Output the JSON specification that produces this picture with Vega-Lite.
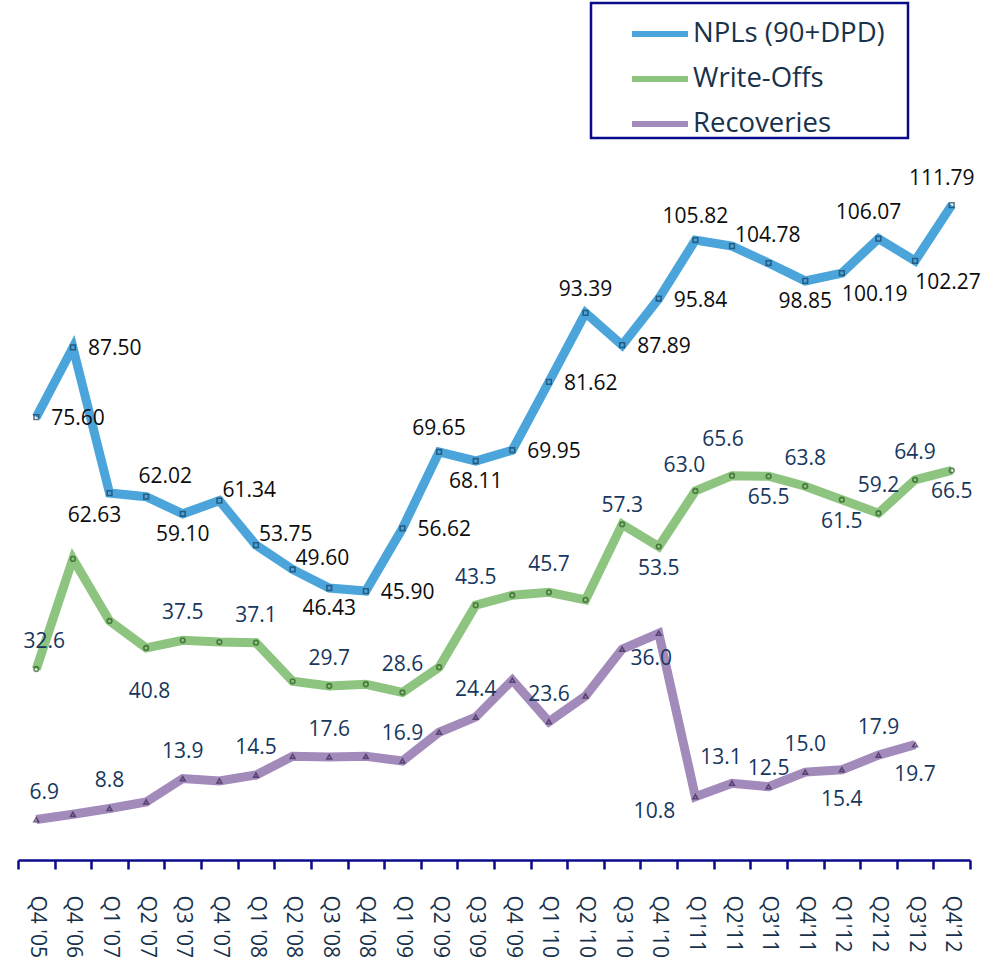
{
  "$schema": "https://vega.github.io/schema/vega-lite/v6.json",
  "autosize": {"type": "none"},
  "width": 952,
  "height": 703,
  "padding": {"left": 18, "top": 157, "right": 20, "bottom": 116},
  "config": {
    "view": {"stroke": null},
    "font": "Open Sans",
    "axisX": {
      "labelAngle": 90, "labelAlign": "left", "labelBaseline": "middle", "labelPadding": 26,
      "labelFont": "Open Sans", "labelFontSize": 21, "labelColor": "#17324a", "labelOverlap": false,
      "domainColor": "#0a0a8c", "domainWidth": 2.5, "tickColor": "#0a0a8c", "tickWidth": 2.5, "tickSize": 9
    }
  },
  "resolve": {"legend": {"shape": "independent", "stroke": "independent"}},
  "data": {"values": [
    {"quarter": "Q4 '05", "series": "NPLs (90+DPD)", "value": 75.60},
    {"quarter": "Q4 '06", "series": "NPLs (90+DPD)", "value": 87.50},
    {"quarter": "Q1 '07", "series": "NPLs (90+DPD)", "value": 62.63},
    {"quarter": "Q2 '07", "series": "NPLs (90+DPD)", "value": 62.02},
    {"quarter": "Q3 '07", "series": "NPLs (90+DPD)", "value": 59.10},
    {"quarter": "Q4 '07", "series": "NPLs (90+DPD)", "value": 61.34},
    {"quarter": "Q1 '08", "series": "NPLs (90+DPD)", "value": 53.75},
    {"quarter": "Q2 '08", "series": "NPLs (90+DPD)", "value": 49.60},
    {"quarter": "Q3 '08", "series": "NPLs (90+DPD)", "value": 46.43},
    {"quarter": "Q4 '08", "series": "NPLs (90+DPD)", "value": 45.90},
    {"quarter": "Q1 '09", "series": "NPLs (90+DPD)", "value": 56.62},
    {"quarter": "Q2 '09", "series": "NPLs (90+DPD)", "value": 69.65},
    {"quarter": "Q3 '09", "series": "NPLs (90+DPD)", "value": 68.11},
    {"quarter": "Q4 '09", "series": "NPLs (90+DPD)", "value": 69.95},
    {"quarter": "Q1 '10", "series": "NPLs (90+DPD)", "value": 81.62},
    {"quarter": "Q2 '10", "series": "NPLs (90+DPD)", "value": 93.39},
    {"quarter": "Q3 '10", "series": "NPLs (90+DPD)", "value": 87.89},
    {"quarter": "Q4 '10", "series": "NPLs (90+DPD)", "value": 95.84},
    {"quarter": "Q1'11", "series": "NPLs (90+DPD)", "value": 105.82},
    {"quarter": "Q2'11", "series": "NPLs (90+DPD)", "value": 104.78},
    {"quarter": "Q3'11", "series": "NPLs (90+DPD)", "value": 101.9},
    {"quarter": "Q4'11", "series": "NPLs (90+DPD)", "value": 98.85},
    {"quarter": "Q1'12", "series": "NPLs (90+DPD)", "value": 100.19},
    {"quarter": "Q2'12", "series": "NPLs (90+DPD)", "value": 106.07},
    {"quarter": "Q3'12", "series": "NPLs (90+DPD)", "value": 102.27},
    {"quarter": "Q4'12", "series": "NPLs (90+DPD)", "value": 111.79},
    {"quarter": "Q4 '05", "series": "Write-Offs", "value": 32.6},
    {"quarter": "Q4 '06", "series": "Write-Offs", "value": 51.4},
    {"quarter": "Q1 '07", "series": "Write-Offs", "value": 40.8},
    {"quarter": "Q2 '07", "series": "Write-Offs", "value": 36.2},
    {"quarter": "Q3 '07", "series": "Write-Offs", "value": 37.5},
    {"quarter": "Q4 '07", "series": "Write-Offs", "value": 37.2},
    {"quarter": "Q1 '08", "series": "Write-Offs", "value": 37.1},
    {"quarter": "Q2 '08", "series": "Write-Offs", "value": 30.5},
    {"quarter": "Q3 '08", "series": "Write-Offs", "value": 29.7},
    {"quarter": "Q4 '08", "series": "Write-Offs", "value": 30.0},
    {"quarter": "Q1 '09", "series": "Write-Offs", "value": 28.6},
    {"quarter": "Q2 '09", "series": "Write-Offs", "value": 32.9},
    {"quarter": "Q3 '09", "series": "Write-Offs", "value": 43.5},
    {"quarter": "Q4 '09", "series": "Write-Offs", "value": 45.2},
    {"quarter": "Q1 '10", "series": "Write-Offs", "value": 45.7},
    {"quarter": "Q2 '10", "series": "Write-Offs", "value": 44.4},
    {"quarter": "Q3 '10", "series": "Write-Offs", "value": 57.3},
    {"quarter": "Q4 '10", "series": "Write-Offs", "value": 53.5},
    {"quarter": "Q1'11", "series": "Write-Offs", "value": 63.0},
    {"quarter": "Q2'11", "series": "Write-Offs", "value": 65.6},
    {"quarter": "Q3'11", "series": "Write-Offs", "value": 65.5},
    {"quarter": "Q4'11", "series": "Write-Offs", "value": 63.8},
    {"quarter": "Q1'12", "series": "Write-Offs", "value": 61.5},
    {"quarter": "Q2'12", "series": "Write-Offs", "value": 59.2},
    {"quarter": "Q3'12", "series": "Write-Offs", "value": 64.9},
    {"quarter": "Q4'12", "series": "Write-Offs", "value": 66.5},
    {"quarter": "Q4 '05", "series": "Recoveries", "value": 6.9},
    {"quarter": "Q4 '06", "series": "Recoveries", "value": 7.8},
    {"quarter": "Q1 '07", "series": "Recoveries", "value": 8.8},
    {"quarter": "Q2 '07", "series": "Recoveries", "value": 9.9},
    {"quarter": "Q3 '07", "series": "Recoveries", "value": 13.9},
    {"quarter": "Q4 '07", "series": "Recoveries", "value": 13.5},
    {"quarter": "Q1 '08", "series": "Recoveries", "value": 14.5},
    {"quarter": "Q2 '08", "series": "Recoveries", "value": 17.7},
    {"quarter": "Q3 '08", "series": "Recoveries", "value": 17.6},
    {"quarter": "Q4 '08", "series": "Recoveries", "value": 17.7},
    {"quarter": "Q1 '09", "series": "Recoveries", "value": 16.9},
    {"quarter": "Q2 '09", "series": "Recoveries", "value": 21.8},
    {"quarter": "Q3 '09", "series": "Recoveries", "value": 24.4},
    {"quarter": "Q4 '09", "series": "Recoveries", "value": 30.7},
    {"quarter": "Q1 '10", "series": "Recoveries", "value": 23.6},
    {"quarter": "Q2 '10", "series": "Recoveries", "value": 28.0},
    {"quarter": "Q3 '10", "series": "Recoveries", "value": 36.0},
    {"quarter": "Q4 '10", "series": "Recoveries", "value": 38.7},
    {"quarter": "Q1'11", "series": "Recoveries", "value": 10.8},
    {"quarter": "Q2'11", "series": "Recoveries", "value": 13.1},
    {"quarter": "Q3'11", "series": "Recoveries", "value": 12.5},
    {"quarter": "Q4'11", "series": "Recoveries", "value": 15.0},
    {"quarter": "Q1'12", "series": "Recoveries", "value": 15.4},
    {"quarter": "Q2'12", "series": "Recoveries", "value": 17.9},
    {"quarter": "Q3'12", "series": "Recoveries", "value": 19.7}
  ]},
  "encoding": {
    "x": {
      "field": "quarter", "type": "nominal",
      "scale": {"type": "band", "paddingInner": 0, "paddingOuter": 0,
        "domain": ["Q4 '05","Q4 '06","Q1 '07","Q2 '07","Q3 '07","Q4 '07","Q1 '08","Q2 '08","Q3 '08","Q4 '08","Q1 '09","Q2 '09","Q3 '09","Q4 '09","Q1 '10","Q2 '10","Q3 '10","Q4 '10","Q1'11","Q2'11","Q3'11","Q4'11","Q1'12","Q2'12","Q3'12","Q4'12"]},
      "axis": {"title": null, "tickBand": "extent", "labelPadding": 26}
    },
    "y": {"field": "value", "type": "quantitative", "scale": {"domain": [0, 120], "nice": false, "zero": true}, "axis": null}
  },
  "layer": [
    {
      "mark": {"type": "line", "strokeWidth": 9, "strokeJoin": "miter"},
      "encoding": {
        "color": {
          "field": "series", "type": "nominal",
          "scale": {"domain": ["NPLs (90+DPD)", "Write-Offs", "Recoveries"], "range": ["#4ba5db", "#8dc47f", "#a28abb"]},
          "legend": {
            "title": "\u00a0", "titleOrient": "right", "titlePadding": 23, "titleFontSize": 10,
            "orient": "none", "legendX": 573, "legendY": -154,
            "symbolType": "stroke", "symbolSize": 400, "symbolStrokeWidth": 6,
            "symbolOffset": 38, "labelOffset": 2, "labelLimit": 400,
            "labelFont": "Open Sans", "labelFontSize": 27.5, "labelColor": "#17324a",
            "rowPadding": -6, "padding": 0,
            "strokeColor": "#0a0a8c", "fillColor": "#ffffff",
            "encode": {
              "legend": {"update": {"strokeWidth": {"value": 2.5}}},
              "symbols": {"update": {"shape": {"value": "stroke"}, "size": {"value": 3136}, "strokeWidth": {"value": 6}}}
            }
          }
        }
      }
    },
    {
      "mark": {"type": "point", "filled": false, "size": 22, "strokeWidth": 1.6},
      "encoding": {
        "shape": {"field": "series", "type": "nominal", "scale": {"domain": ["NPLs (90+DPD)", "Write-Offs", "Recoveries"], "range": ["square", "circle", "triangle-up"]}, "legend": null},
        "stroke": {"field": "series", "type": "nominal", "scale": {"domain": ["NPLs (90+DPD)", "Write-Offs", "Recoveries"], "range": ["#173f5f", "#2c5a22", "#3d2757"]}, "legend": null}
      }
    },
    {
      "transform": [{"filter": {"and": [{"field": "series", "equal": "NPLs (90+DPD)"}, {"field": "quarter", "oneOf": ["Q4 '05","Q4 '06","Q4 '08","Q1 '09","Q4 '09","Q1 '10","Q3 '10","Q4 '10"]}]}}],
      "mark": {"type": "text", "align": "left", "baseline": "middle", "dx": 15, "dy": 2, "fontSize": 21, "font": "Open Sans", "color": "#0d0d0d"},
      "encoding": {"text": {"field": "value", "format": ".2f"}}
    },
    {
      "transform": [{"filter": {"and": [{"field": "series", "equal": "NPLs (90+DPD)"}, {"field": "quarter", "oneOf": ["Q4 '07","Q1 '08","Q2 '08","Q2'11"]}]}}],
      "mark": {"type": "text", "align": "left", "baseline": "middle", "dx": 3, "dy": -10, "fontSize": 21, "font": "Open Sans", "color": "#0d0d0d"},
      "encoding": {"text": {"field": "value", "format": ".2f"}}
    },
    {
      "transform": [{"filter": {"and": [{"field": "series", "equal": "NPLs (90+DPD)"}, {"field": "quarter", "oneOf": ["Q2 '09","Q2 '10","Q1'11"]}]}}],
      "mark": {"type": "text", "align": "center", "baseline": "middle", "dy": -23, "fontSize": 21, "font": "Open Sans", "color": "#0d0d0d"},
      "encoding": {"text": {"field": "value", "format": ".2f"}}
    },
    {
      "transform": [{"filter": {"and": [{"field": "series", "equal": "NPLs (90+DPD)"}, {"field": "quarter", "oneOf": ["Q2'12","Q4'12"]}]}}],
      "mark": {"type": "text", "align": "center", "baseline": "middle", "dx": -10, "dy": -26, "fontSize": 21, "font": "Open Sans", "color": "#0d0d0d"},
      "encoding": {"text": {"field": "value", "format": ".2f"}}
    },
    {
      "transform": [{"filter": {"and": [{"field": "series", "equal": "NPLs (90+DPD)"}, {"field": "quarter", "oneOf": ["Q2 '07"]}]}}],
      "mark": {"type": "text", "align": "center", "baseline": "middle", "dx": 19, "dy": -20, "fontSize": 21, "font": "Open Sans", "color": "#0d0d0d"},
      "encoding": {"text": {"field": "value", "format": ".2f"}}
    },
    {
      "transform": [{"filter": {"and": [{"field": "series", "equal": "NPLs (90+DPD)"}, {"field": "quarter", "oneOf": ["Q3 '07","Q3 '08","Q3 '09","Q4'11"]}]}}],
      "mark": {"type": "text", "align": "center", "baseline": "middle", "dy": 21, "fontSize": 21, "font": "Open Sans", "color": "#0d0d0d"},
      "encoding": {"text": {"field": "value", "format": ".2f"}}
    },
    {
      "transform": [{"filter": {"and": [{"field": "series", "equal": "NPLs (90+DPD)"}, {"field": "quarter", "oneOf": ["Q1 '07"]}]}}],
      "mark": {"type": "text", "align": "center", "baseline": "middle", "dx": -15, "dy": 23, "fontSize": 21, "font": "Open Sans", "color": "#0d0d0d"},
      "encoding": {"text": {"field": "value", "format": ".2f"}}
    },
    {
      "transform": [{"filter": {"and": [{"field": "series", "equal": "NPLs (90+DPD)"}, {"field": "quarter", "oneOf": ["Q1'12","Q3'12"]}]}}],
      "mark": {"type": "text", "align": "center", "baseline": "middle", "dx": 33, "dy": 22, "fontSize": 21, "font": "Open Sans", "color": "#0d0d0d"},
      "encoding": {"text": {"field": "value", "format": ".2f"}}
    },
    {
      "transform": [{"filter": {"and": [{"field": "series", "oneOf": ["Write-Offs", "Recoveries"]}, {"field": "quarter", "oneOf": ["Q4 '05"]}]}}],
      "mark": {"type": "text", "align": "center", "baseline": "middle", "dx": 8, "dy": -27, "fontSize": 21, "font": "Open Sans", "color": "#17375e"},
      "encoding": {"text": {"field": "value", "format": ".1f"}}
    },
    {
      "transform": [{"filter": {"or": [
        {"and": [{"field": "series", "equal": "Write-Offs"}, {"field": "quarter", "oneOf": ["Q3 '07","Q1 '08","Q3 '08","Q1 '09","Q3 '09","Q1 '10","Q4'11","Q2'12","Q3'12"]}]},
        {"and": [{"field": "series", "equal": "Recoveries"}, {"field": "quarter", "oneOf": ["Q1 '07","Q3 '07","Q1 '08","Q3 '08","Q1 '09","Q3 '09","Q1 '10","Q4'11","Q2'12"]}]}
      ]}}],
      "mark": {"type": "text", "align": "center", "baseline": "middle", "dy": -27, "fontSize": 21, "font": "Open Sans", "color": "#17375e"},
      "encoding": {"text": {"field": "value", "format": ".1f"}}
    },
    {
      "transform": [{"filter": {"or": [
        {"and": [{"field": "series", "equal": "Write-Offs"}, {"field": "quarter", "oneOf": ["Q3 '10"]}]},
        {"and": [{"field": "series", "equal": "Recoveries"}, {"field": "quarter", "oneOf": ["Q3'11"]}]}
      ]}}],
      "mark": {"type": "text", "align": "center", "baseline": "middle", "dy": -18, "fontSize": 21, "font": "Open Sans", "color": "#17375e"},
      "encoding": {"text": {"field": "value", "format": ".1f"}}
    },
    {
      "transform": [{"filter": {"or": [
        {"and": [{"field": "series", "equal": "Write-Offs"}, {"field": "quarter", "oneOf": ["Q1'11"]}]},
        {"and": [{"field": "series", "equal": "Recoveries"}, {"field": "quarter", "oneOf": ["Q2'11"]}]}
      ]}}],
      "mark": {"type": "text", "align": "center", "baseline": "middle", "dx": -11, "dy": -25, "fontSize": 21, "font": "Open Sans", "color": "#17375e"},
      "encoding": {"text": {"field": "value", "format": ".1f"}}
    },
    {
      "transform": [{"filter": {"and": [{"field": "series", "equal": "Write-Offs"}, {"field": "quarter", "oneOf": ["Q2'11"]}]}}],
      "mark": {"type": "text", "align": "center", "baseline": "middle", "dx": -9, "dy": -36, "fontSize": 21, "font": "Open Sans", "color": "#17375e"},
      "encoding": {"text": {"field": "value", "format": ".1f"}}
    },
    {
      "transform": [{"filter": {"and": [{"field": "series", "equal": "Write-Offs"}, {"field": "quarter", "oneOf": ["Q4 '10","Q3'11","Q1'12","Q4'12"]}]}}],
      "mark": {"type": "text", "align": "center", "baseline": "middle", "dy": 22, "fontSize": 21, "font": "Open Sans", "color": "#17375e"},
      "encoding": {"text": {"field": "value", "format": ".1f"}}
    },
    {
      "transform": [{"filter": {"and": [{"field": "series", "equal": "Recoveries"}, {"field": "quarter", "oneOf": ["Q1'12","Q3'12"]}]}}],
      "mark": {"type": "text", "align": "center", "baseline": "middle", "dy": 30, "fontSize": 21, "font": "Open Sans", "color": "#17375e"},
      "encoding": {"text": {"field": "value", "format": ".1f"}}
    },
    {
      "transform": [{"filter": {"and": [{"field": "series", "equal": "Write-Offs"}, {"field": "quarter", "oneOf": ["Q1 '07"]}]}}],
      "mark": {"type": "text", "align": "center", "baseline": "middle", "dx": 40, "dy": 71, "fontSize": 21, "font": "Open Sans", "color": "#17375e"},
      "encoding": {"text": {"field": "value", "format": ".1f"}}
    },
    {
      "transform": [{"filter": {"and": [{"field": "series", "equal": "Recoveries"}, {"field": "quarter", "oneOf": ["Q3 '10"]}]}}],
      "mark": {"type": "text", "align": "center", "baseline": "middle", "dx": 29, "dy": 10, "fontSize": 21, "font": "Open Sans", "color": "#17375e"},
      "encoding": {"text": {"field": "value", "format": ".1f"}}
    },
    {
      "transform": [{"filter": {"and": [{"field": "series", "equal": "Recoveries"}, {"field": "quarter", "oneOf": ["Q1'11"]}]}}],
      "mark": {"type": "text", "align": "center", "baseline": "middle", "dx": -41, "dy": 15, "fontSize": 21, "font": "Open Sans", "color": "#17375e"},
      "encoding": {"text": {"field": "value", "format": ".1f"}}
    }
  ]
}
